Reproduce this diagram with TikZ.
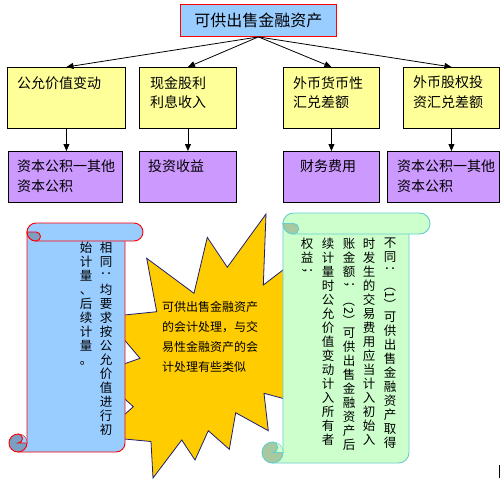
\documentclass[tikz,border=0pt]{standalone}
\usepackage{fontspec}
\setmainfont{Noto Sans CJK SC}
\usepackage{graphicx}
\usetikzlibrary{arrows.meta}
\definecolor{headblue}{RGB}{153,204,255}
\definecolor{itemyellow}{RGB}{255,255,153}
\definecolor{itemviolet}{RGB}{204,153,255}
\definecolor{burstgold}{RGB}{255,204,0}
\definecolor{burstnavy}{RGB}{30,30,120}
\definecolor{curlblue}{RGB}{122,158,196}
\definecolor{scrollgreen}{RGB}{204,255,204}
\definecolor{curlgreen}{RGB}{168,200,160}
\definecolor{scrollcyan}{RGB}{102,204,204}
\tikzset{headbox/.style={draw=red,fill=headblue,line width=0.9pt,anchor=north west,inner sep=0pt},
  itembox/.style={draw=black,line width=0.9pt,anchor=north west,inner sep=0pt},
  itemtext/.style={anchor=north west,align=left,inner sep=0pt,font=\fontsize{14}{19.5}\selectfont},
  coltext/.style={anchor=north,inner sep=0pt,font=\fontsize{12.5}{14}\selectfont},
  arrow/.style={-{Triangle[length=7pt,width=6pt]},line width=0.8pt}}

% vertical text: one glyph per line
\newcommand\rr[1]{\rotatebox[origin=c]{-90}{#1}}
\newcommand\vcolstop{\relax}
\newcommand\vcol[1]{\vbox{\lineskip=1pt\lineskiplimit=0pt\vcolnext#1\vcolstop}}
\newcommand\vcolnext[1]{\ifx#1\vcolstop\else\hbox to 1em{\hss#1\hss}\expandafter\vcolnext\fi}

% scroll: left, top, right, bottom, roll radius, fill, curl, edge
\newcommand\vscroll[8]{%
  \draw[draw=#8,fill=#6,line width=0.9pt] ({#1+2*#5},{#2+#5}) -- ({#3-2*#5},{#2+#5}) -- ({#3-2*#5},{#4-#5})
    arc[start angle=0,end angle=90,radius=#5] -- ({#1+#5},#4) -- ({#1+#5},{#4-#5}) -- ({#1+2*#5},{#4-#5}) -- cycle;
  \draw[draw=#8,fill=#7,line width=0.9pt] ({#1+#5},{#4-#5}) circle[radius=#5];
  \fill[#6] ({#1+#5},{#4-2*#5}) arc[start angle=270,end angle=450,radius=#5/2] -- ({#1+2*#5},{#4-#5})
    arc[start angle=0,end angle=-90,radius=#5] -- cycle;
  \draw[draw=#8,line width=0.9pt] ({#1+#5},{#4-2*#5}) arc[start angle=270,end angle=450,radius=#5/2] -- ({#1+2*#5},{#4-#5});
  \draw[draw=#8,fill=#6,line width=0.9pt] ({#1+3*#5},#2) -- ({#3-#5},#2) arc[start angle=-90,end angle=90,radius=#5]
    -- ({#1+3*#5},{#2+2*#5}) arc[start angle=90,end angle=270,radius=#5] -- cycle;
  \draw[draw=#8,fill=#7,line width=0.9pt] ({#1+2*#5},{#2+#5}) arc[start angle=180,end angle=90,radius=#5]
    arc[start angle=90,end angle=-90,radius=#5/2] -- cycle;
}

\begin{document}
\begin{tikzpicture}[x=1pt,y=-1pt]
  \path[fill=white] (0,0) rectangle (501,483);
  \useasboundingbox (0,0) rectangle (501,483);
  % tree
  \node[headbox,minimum width=156pt,minimum height=32pt,font=\fontsize{16}{18}\selectfont] (asset) at (180,4) {可供出售金融资产};
  \node[itembox,fill=itemyellow,minimum width=118pt,minimum height=61pt] (fair) at (7,67) {};
  \node[itembox,fill=itemyellow,minimum width=97pt,minimum height=61pt] (cash) at (139,67) {};
  \node[itembox,fill=itemyellow,minimum width=96pt,minimum height=61pt] (fxmon) at (283,67) {};
  \node[itembox,fill=itemyellow,minimum width=96pt,minimum height=61pt] (fxeq) at (403,67) {};
  \node[itembox,fill=itemviolet,minimum width=114pt,minimum height=51pt] (surplusa) at (8,151) {};
  \node[itembox,fill=itemviolet,minimum width=97pt,minimum height=51pt] (income) at (139,151) {};
  \node[itembox,fill=itemviolet,minimum width=96pt,minimum height=51pt] (finance) at (283,151) {};
  \node[itembox,fill=itemviolet,minimum width=112pt,minimum height=51pt] (surplusb) at (387,151) {};
  \node[itemtext] (fairtext) at (17,76) {公允价值变动};
  \node[itemtext] (cashtext) at (150,76) {现金股利\\利息收入};
  \node[itemtext] (fxmontext) at (293,76) {外币货币性\\汇兑差额};
  \node[itemtext] (fxeqtext) at (413,76) {外币股权投\\资汇兑差额};
  \node[itemtext] (surplusatext) at (17,160) {资本公积一其他\\资本公积};
  \node[itemtext] (incometext) at (148,160) {投资收益};
  \node[itemtext] (financetext) at (300,160) {财务费用};
  \node[itemtext] (surplusbtext) at (397,160) {资本公积一其他\\资本公积};
  \foreach \item in {fair,cash,fxmon,fxeq}
    \draw[arrow] (asset.south) -- (\item.north);
  \draw[arrow] (fair.south) -- (fair.south |- surplusa.north);
  \draw[arrow] (cash.south) -- (income.north);
  \draw[arrow] (fxmon.south) -- (finance.north);
  \draw[arrow] (fxeq.south) -- (fxeq.south |- surplusb.north);
  % star
  \draw[draw=burstnavy,fill=burstgold,line width=0.8pt] (146.7,258.3) -- (194,293.3) -- (207.3,237.3) -- (227.3,267.3)
    -- (266,214) -- (263.3,285) -- (300,257) -- (292,330) -- (300,403) -- (264,393.3) -- (268.3,430.7)
    -- (235.7,412.7) -- (229.3,449.3) -- (208.3,430.7) -- (195,460) -- (181.7,440) -- (153,478)
    -- (151,441.5) -- (100,436.7) -- (133.3,406.7) -- (97,373.6) -- (140,358.3) -- (105,317)
    -- (156.7,311.7) -- cycle;
  \node[anchor=north west,align=left,inner sep=0pt,font=\fontsize{12}{20}\selectfont] (burstnote) at (162,300.7)
    {可供出售金融资产\\的会计处理，与交\\易性金融资产的会\\计处理有些类似};
  % scrolls
  \vscroll{9}{223}{143}{452}{9}{headblue}{curlblue}{red}
  \vscroll{262}{213}{430}{463}{10.5}{scrollgreen}{curlgreen}{scrollcyan}
  \node[coltext] (samea) at (106,242) {\vcol{相同{\rr：}均要求按公允价值进行初}};
  \node[coltext] (sameb) at (86,242) {\vcol{始计量、后续计量。}};
  \node[coltext] (diffa) at (390,238) {\vcol{不同{\rr：}{\rr{（1）}}可供出售金融资产取得}};
  \node[coltext] (diffb) at (369,238) {\vcol{时发生的交易费用应当计入初始入}};
  \node[coltext] (diffc) at (349,238) {\vcol{账金额{\rr；}{\rr{（2）}}可供出售金融资产后}};
  \node[coltext] (diffd) at (328,238) {\vcol{续计量时公允价值变动计入所有者}};
  \node[coltext] (diffe) at (307,238) {\vcol{权益{\rr；}}};
  \draw[line width=0.8pt] (499.5,465) -- (499.5,478);
\end{tikzpicture}
\end{document}
